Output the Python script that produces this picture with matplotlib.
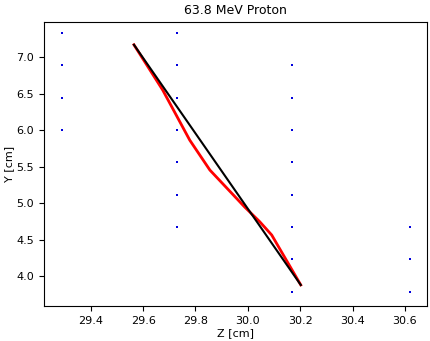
import matplotlib
matplotlib.use("Agg")
import matplotlib.pyplot as plt

# Detector grid points (blue dots)
grid_z = [29.29, 29.29, 29.29, 29.29,
          29.73, 29.73, 29.73, 29.73, 29.73, 29.73, 29.73,
          30.17, 30.17, 30.17, 30.17, 30.17, 30.17, 30.17, 30.17,
          30.62, 30.62, 30.62]
grid_y = [7.33, 6.886, 6.443, 6.0,
          7.33, 6.886, 6.443, 6.0, 5.557, 5.114, 4.67,
          6.886, 6.443, 6.0, 5.557, 5.114, 4.67, 4.227, 3.784,
          4.67, 4.227, 3.784]

# Reconstructed track (red)
track_z = [29.565, 29.675, 29.778, 29.855, 29.988, 30.045, 30.091, 30.202]
track_y = [7.17, 6.548, 5.863, 5.452, 4.945, 4.745, 4.562, 3.877]

# Fitted line (black)
fit_z = [29.565, 30.202]
fit_y = [7.17, 3.877]

fig = plt.figure(figsize=(4.3, 3.41), dpi=100)
ax = fig.add_axes([0.102, 0.103, 0.891, 0.832])
ax.plot(grid_z, grid_y, 's', color='#0000dd', markersize=2.0, markeredgewidth=0,
        linestyle='none')
ax.plot(track_z, track_y, color='red', linewidth=2)
ax.plot(fit_z, fit_y, color='black', linewidth=1.5)
ax.set_xlim(29.221, 30.684)
ax.set_ylim(3.59, 7.48)
ax.set_xticks([29.4, 29.6, 29.8, 30.0, 30.2, 30.4, 30.6])
ax.set_yticks([4.0, 4.5, 5.0, 5.5, 6.0, 6.5, 7.0])
ax.tick_params(labelsize=8)
ax.set_title("63.8 MeV Proton", fontsize=9)
ax.set_xlabel("Z [cm]", fontsize=8, labelpad=2)
ax.set_ylabel("Y [cm]", fontsize=8, labelpad=2)
fig.savefig("out.png", dpi=100)
